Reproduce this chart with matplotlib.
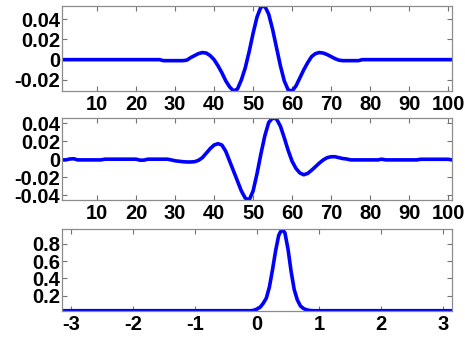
import numpy as np
import matplotlib
matplotlib.use("Agg")
import matplotlib.pyplot as plt
from matplotlib.ticker import FuncFormatter

plt.rcParams['font.family'] = ['Liberation Sans', 'DejaVu Sans']
plt.rcParams['font.weight'] = 'bold'
plt.rcParams['axes.unicode_minus'] = False

# ---- data ----
n_top = np.arange(1, 102)
top_vals = ([0.0] * 26 +
            [-0.001, -0.001, -0.001, -0.001, -0.001, -0.001,          # 27-32
             -0.0005, 0.002, 0.004, 0.006, 0.007, 0.0065, 0.004,     # 33-39
             0.0, -0.006, -0.013, -0.021, -0.027, -0.031, -0.029,    # 40-46
             -0.020, -0.008, 0.008, 0.026, 0.042, 0.052, 0.053,      # 47-53
             0.045, 0.030, 0.012, -0.006, -0.021, -0.030, -0.031,    # 54-60
             -0.026, -0.018, -0.010, -0.003, 0.003, 0.006, 0.007,    # 61-67
             0.0065, 0.005, 0.003, 0.001, -0.0005,                   # 68-72
             -0.001, -0.001, -0.001, -0.001, -0.001] +               # 73-77
            [0.0] * 24)

mid_vals = ([-0.0005, -0.0005, 0.0005, 0.0008] +                     # 1-4
            [-0.0005] * 7 +                                          # 5-11
            [0.0003] * 9 +                                           # 12-20
            [-0.0008, -0.0008] +                                     # 21-22
            [0.0003] * 6 +                                           # 23-28
            [-0.0005, -0.0015, -0.002, -0.0025, -0.0028, -0.0028,    # 29-34
             -0.0025, -0.001, 0.002, 0.007, 0.012, 0.016, 0.0175,    # 35-41
             0.016, 0.009, -0.002, -0.013, -0.024, -0.035, -0.043,   # 42-48
             -0.045, -0.035, -0.016, 0.006, 0.026, 0.041, 0.046,     # 49-55
             0.045, 0.037, 0.024, 0.010, -0.002, -0.010, -0.015,     # 56-62
             -0.017, -0.0155, -0.012, -0.008, -0.004, -0.0005,       # 63-68
             0.002, 0.003, 0.003, 0.002, 0.001, 0.0005] +            # 69-74
            [-0.0005] * 8 +                                          # 75-82
            [0.0003] +                                               # 83
            [-0.0005] * 9 +                                          # 84-92
            [0.0002] * 8 +                                           # 93-100
            [-0.0005])                                               # 101

bot_x = [-3.1416, -0.10, -0.05, 0.0, 0.05, 0.10, 0.15, 0.20, 0.25, 0.30,
         0.35, 0.40, 0.45, 0.50, 0.55, 0.60, 0.65, 0.70, 0.75, 0.80, 0.85,
         0.90, 3.1416]
bot_y = [0.025, 0.025, 0.03, 0.045, 0.065, 0.11, 0.17, 0.30, 0.50, 0.72,
         0.90, 0.97, 0.93, 0.74, 0.48, 0.27, 0.15, 0.08, 0.05, 0.035, 0.028,
         0.025, 0.025]

top_xticks = [10, 20, 30, 40, 50, 60, 70, 80, 90, 100]
top_yticks = [-0.02, 0, 0.02, 0.04]
mid_yticks = [-0.04, -0.02, 0, 0.02, 0.04]
bot_xticks = [-3, -2, -1, 0, 1, 2, 3]
bot_yticks = [0.2, 0.4, 0.6, 0.8]

# ---- figure ----
fig = plt.figure(figsize=(4.65, 3.42), dpi=100)
ax1 = fig.add_axes([0.1333, 0.7339, 0.8387, 0.2485])
ax2 = fig.add_axes([0.1333, 0.4152, 0.8387, 0.2398])
ax3 = fig.add_axes([0.1333, 0.0915, 0.8387, 0.2380])

fmt = FuncFormatter(lambda v, p: '%g' % round(v, 6))
LC = (0, 0, 1)
FS = 14.5

ax1.plot(n_top, top_vals, color=LC, lw=2.6)
ax1.set_xlim(1, 101)
ax1.set_ylim(min(top_vals), max(top_vals))
ax1.set_xticks(top_xticks)
ax1.set_yticks(top_yticks)

ax2.plot(n_top, mid_vals, color=LC, lw=2.6)
ax2.set_xlim(1, 101)
ax2.set_ylim(min(mid_vals), max(mid_vals))
ax2.set_xticks(top_xticks)
ax2.set_yticks(mid_yticks)

ax3.plot(bot_x, bot_y, color=LC, lw=2.6)
ax3.set_xlim(-np.pi, np.pi)
ax3.set_ylim(min(bot_y), max(bot_y))
ax3.set_xticks(bot_xticks)
ax3.set_yticks(bot_yticks)

for ax in (ax1, ax2, ax3):
    ax.yaxis.set_major_formatter(fmt)
    ax.xaxis.set_major_formatter(fmt)
    for s in ax.spines.values():
        s.set_color('0.55')
        s.set_linewidth(0.9)
    ax.tick_params(direction='in', length=3.5, width=0.8, color='0.45',
                   top=True, right=True, labelsize=FS)
    ax.tick_params(axis='x', pad=3)
    ax.tick_params(axis='y', pad=1.5)
    for lab in ax.get_xticklabels() + ax.get_yticklabels():
        lab.set_fontweight('bold')

fig.savefig('out.png', dpi=100)
